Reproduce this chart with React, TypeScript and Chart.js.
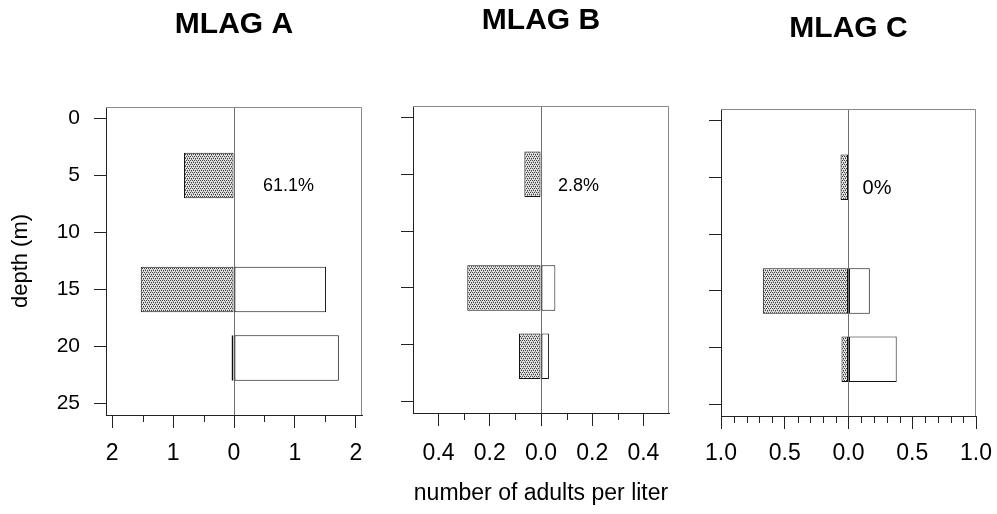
import React, { useEffect, useRef } from 'react';
import { Chart, registerables } from 'chart.js';

Chart.register(...registerables);

// ---------------- data ----------------
const depths = [5, 15, 21];
const depthTicks = [0, 5, 10, 15, 20, 25];

const titles = ['MLAG A', 'MLAG B', 'MLAG C'];
const percentLabels = ['61.1%', '2.8%', '0%'];

// left (stippled) bars and right (open) bars, number of adults per liter
const leftA = [0.82, 1.53, 0.04];
const rightA = [null, 1.51, 1.72];
const leftB = [0.065, 0.288, 0.086];
const rightB = [null, 0.056, 0.031];
const leftC = [0.0625, 0.672, 0.055];
const rightC = [null, 0.167, 0.378];

const xTicksA = [-2, -1, 0, 1, 2];
const xTicksB = [-0.4, -0.2, 0, 0.2, 0.4];
const xTicksC = [-1, -0.5, 0, 0.5, 1];

const yTitle = 'depth (m)';
const xTitle = 'number of adults per liter';

// ---------------- styling / layout ----------------
const FONT = "'Liberation Sans', Arial, Helvetica, sans-serif";

type Layout = {
  canvasLeft: number; canvasWidth: number; xMax: number; decimals: number;
  yAxisWidth: number; padRight: number; xAxisHeight: number;
  titleTop: number; titleBottom: number; xTickPad: number;
  showYLabels: boolean; showYTitle: boolean; showXTitle: boolean;
  minorStep: number; pctX: number; pctY: number; pctFont: number;
};

const layouts: Layout[] = [
  { canvasLeft: 0, canvasWidth: 380, xMax: 2.1, decimals: 0, yAxisWidth: 106, padRight: 18, xAxisHeight: 99,
    titleTop: 6.5, titleBottom: 64.5, xTickPad: 11.7, showYLabels: true, showYTitle: true, showXTitle: false,
    minorStep: 0.5, pctX: 0.475, pctY: 5.9, pctFont: 18 },
  { canvasLeft: 380, canvasWidth: 300, xMax: 0.5, decimals: 1, yAxisWidth: 33, padRight: 11, xAxisHeight: 101,
    titleTop: 2.5, titleBottom: 67.5, xTickPad: 13.7, showYLabels: false, showYTitle: false, showXTitle: true,
    minorStep: 0.1, pctX: 0.066, pctY: 6.05, pctFont: 18 },
  { canvasLeft: 680, canvasWidth: 317, xMax: 1.0, decimals: 1, yAxisWidth: 41, padRight: 21, xAxisHeight: 98,
    titleTop: 10.5, titleBottom: 62.5, xTickPad: 10.7, showYLabels: false, showYTitle: false, showXTitle: false,
    minorStep: 0.1, pctX: 0.11, pctY: 6.0, pctFont: 20 },
];

const panels = [
  { title: titles[0], left: leftA, right: rightA, xTicks: xTicksA, pct: percentLabels[0] },
  { title: titles[1], left: leftB, right: rightB, xTicks: xTicksB, pct: percentLabels[1] },
  { title: titles[2], left: leftC, right: rightC, xTicks: xTicksC, pct: percentLabels[2] },
];

function makeStipple(): CanvasPattern | string {
  const c = document.createElement('canvas');
  c.width = 4; c.height = 4;
  const g = c.getContext('2d');
  if (!g) return '#b0b0b0';
  g.fillStyle = '#e2e2e2';
  g.fillRect(0, 0, 4, 4);
  g.fillStyle = '#404040';
  [[0, 0], [2, 0], [1, 2], [3, 2]].forEach(([x, y]) => g.fillRect(x, y, 1, 1));
  g.fillStyle = '#8c8c8c';
  [[1, 1], [3, 3]].forEach(([x, y]) => g.fillRect(x, y, 1, 1));
  return g.createPattern(c, 'repeat') || '#b0b0b0';
}

const extrasPlugin = {
  id: 'panelExtras',
  beforeDatasetsDraw(chart: any) {
    const { ctx, chartArea: a } = chart;
    ctx.save();
    ctx.strokeStyle = '#8a8a8a';
    ctx.lineWidth = 1;
    ctx.beginPath();
    const t = Math.round(a.top) + 0.5;
    const r = Math.round(a.right) - 0.5;
    ctx.moveTo(a.left, t);
    ctx.lineTo(r, t);
    ctx.lineTo(r, a.bottom);
    ctx.stroke();
    ctx.restore();
  },
  afterDraw(chart: any, _args: any, opts: any) {
    const { ctx, chartArea: a, scales } = chart;
    const xs = scales.x;
    const ys = scales.y;
    ctx.save();
    ctx.strokeStyle = '#222';
    ctx.lineWidth = 1;
    const step = opts.minorStep;
    const n = Math.round(xs.max / step);
    ctx.beginPath();
    for (let i = -n; i <= n; i++) {
      const v = i * step;
      if (opts.majors.some((m: number) => Math.abs(m - v) < 1e-9)) continue;
      if (Math.abs(v) > xs.max - 1e-9) continue;
      const px = Math.round(xs.getPixelForValue(v)) + 0.5;
      ctx.moveTo(px, a.bottom);
      ctx.lineTo(px, a.bottom + 7);
    }
    ctx.stroke();
    ctx.fillStyle = '#000';
    ctx.font = `${opts.pctFont}px ${FONT}`;
    ctx.textAlign = 'left';
    ctx.textBaseline = 'middle';
    ctx.fillText(opts.pct, xs.getPixelForValue(opts.pctX), ys.getPixelForValue(opts.pctY));
    ctx.restore();
  },
};

function Panel({ idx }: { idx: number }) {
  const ref = useRef<HTMLCanvasElement | null>(null);
  const p = panels[idx];
  const L = layouts[idx];
  useEffect(() => {
    if (!ref.current) return;
    const stipple = makeStipple();
    const leftData = depths
      .map((d, i) => ({ x: p.left[i] == null ? null : -(p.left[i] as number), y: d }))
      .filter((o) => o.x != null);
    const rightData = depths
      .map((d, i) => ({ x: p.right[i], y: d }))
      .filter((o) => o.x != null);
    const chart = new Chart(ref.current, {
      type: 'bar',
      data: {
        datasets: [
          {
            label: 'left', data: leftData as any, backgroundColor: stipple as any, borderColor: '#111',
            borderWidth: 1, borderSkipped: false, grouped: false, barPercentage: 1, categoryPercentage: 0.8,
          },
          {
            label: 'right', data: rightData as any, backgroundColor: '#ffffff', borderColor: '#111',
            borderWidth: 1, borderSkipped: false, grouped: false, barPercentage: 1, categoryPercentage: 0.8,
          },
        ],
      },
      options: {
        indexAxis: 'y',
        responsive: false,
        animation: false,
        layout: { padding: { left: 0, right: L.padRight, top: 0, bottom: 0 } },
        plugins: {
          legend: { display: false },
          tooltip: { enabled: false },
          title: {
            display: true, text: p.title, fullSize: false, color: '#000',
            font: { size: 30, weight: 'bold', family: FONT, lineHeight: 1.2 },
            padding: { top: L.titleTop, bottom: L.titleBottom },
          },
          panelExtras: {
            minorStep: L.minorStep, majors: p.xTicks, pct: p.pct, pctX: L.pctX, pctY: L.pctY, pctFont: L.pctFont,
          },
        } as any,
        scales: {
          x: {
            type: 'linear', min: -L.xMax, max: L.xMax, offset: false,
            afterBuildTicks: (s: any) => { s.ticks = p.xTicks.map((v) => ({ value: v })); },
            afterFit: (s: any) => { s.height = L.xAxisHeight; s.paddingLeft = 0; s.paddingRight = 0; },
            ticks: {
              callback: (v: any) => Math.abs(Number(v)).toFixed(L.decimals),
              font: { size: 23, family: FONT, lineHeight: 1.2 }, color: '#000', padding: L.xTickPad,
              maxRotation: 0, autoSkip: false,
            },
            grid: {
              offset: false, drawOnChartArea: true, drawTicks: true, tickLength: 13,
              color: (c: any) => (c.tick && Math.abs(c.tick.value) < 1e-9 ? '#6f6f6f' : 'rgba(0,0,0,0)'),
              tickColor: '#222', lineWidth: 1,
            },
            border: { display: true, color: '#222', width: 1 },
            title: {
              display: L.showXTitle, text: xTitle, color: '#000',
              font: { size: 23, family: FONT, lineHeight: 1.2 }, padding: { top: 0, bottom: 6.2 },
            },
          },
          y: {
            type: 'linear', min: -1, max: 26, reverse: true, offset: false,
            afterBuildTicks: (s: any) => { s.ticks = depthTicks.map((v) => ({ value: v })); },
            afterFit: (s: any) => { s.width = L.yAxisWidth; s.paddingTop = 0; s.paddingBottom = 0; },
            ticks: { display: L.showYLabels, font: { size: 21, family: FONT }, color: '#000', padding: 14 },
            grid: { offset: false, drawOnChartArea: false, drawTicks: true, tickLength: 12, tickColor: '#222' },
            border: { display: true, color: '#222', width: 1 },
            title: {
              display: L.showYTitle, text: yTitle, color: '#000',
              font: { size: 22, family: FONT, lineHeight: 1.2 }, padding: { top: 7.8, bottom: 0 },
            },
          },
        } as any,
      } as any,
      plugins: [extrasPlugin as any],
    });
    return () => chart.destroy();
  }, [idx]);
  return (
    <canvas
      ref={ref}
      width={L.canvasWidth}
      height={514}
      style={{ position: 'absolute', left: L.canvasLeft, top: 0, width: L.canvasWidth, height: 514 }}
    />
  );
}

export default function App() {
  return (
    <div style={{ position: 'absolute', left: 0, top: 0, width: 997, height: 514, background: '#fff', overflow: 'hidden' }}>
      <Panel idx={0} />
      <Panel idx={1} />
      <Panel idx={2} />
    </div>
  );
}
